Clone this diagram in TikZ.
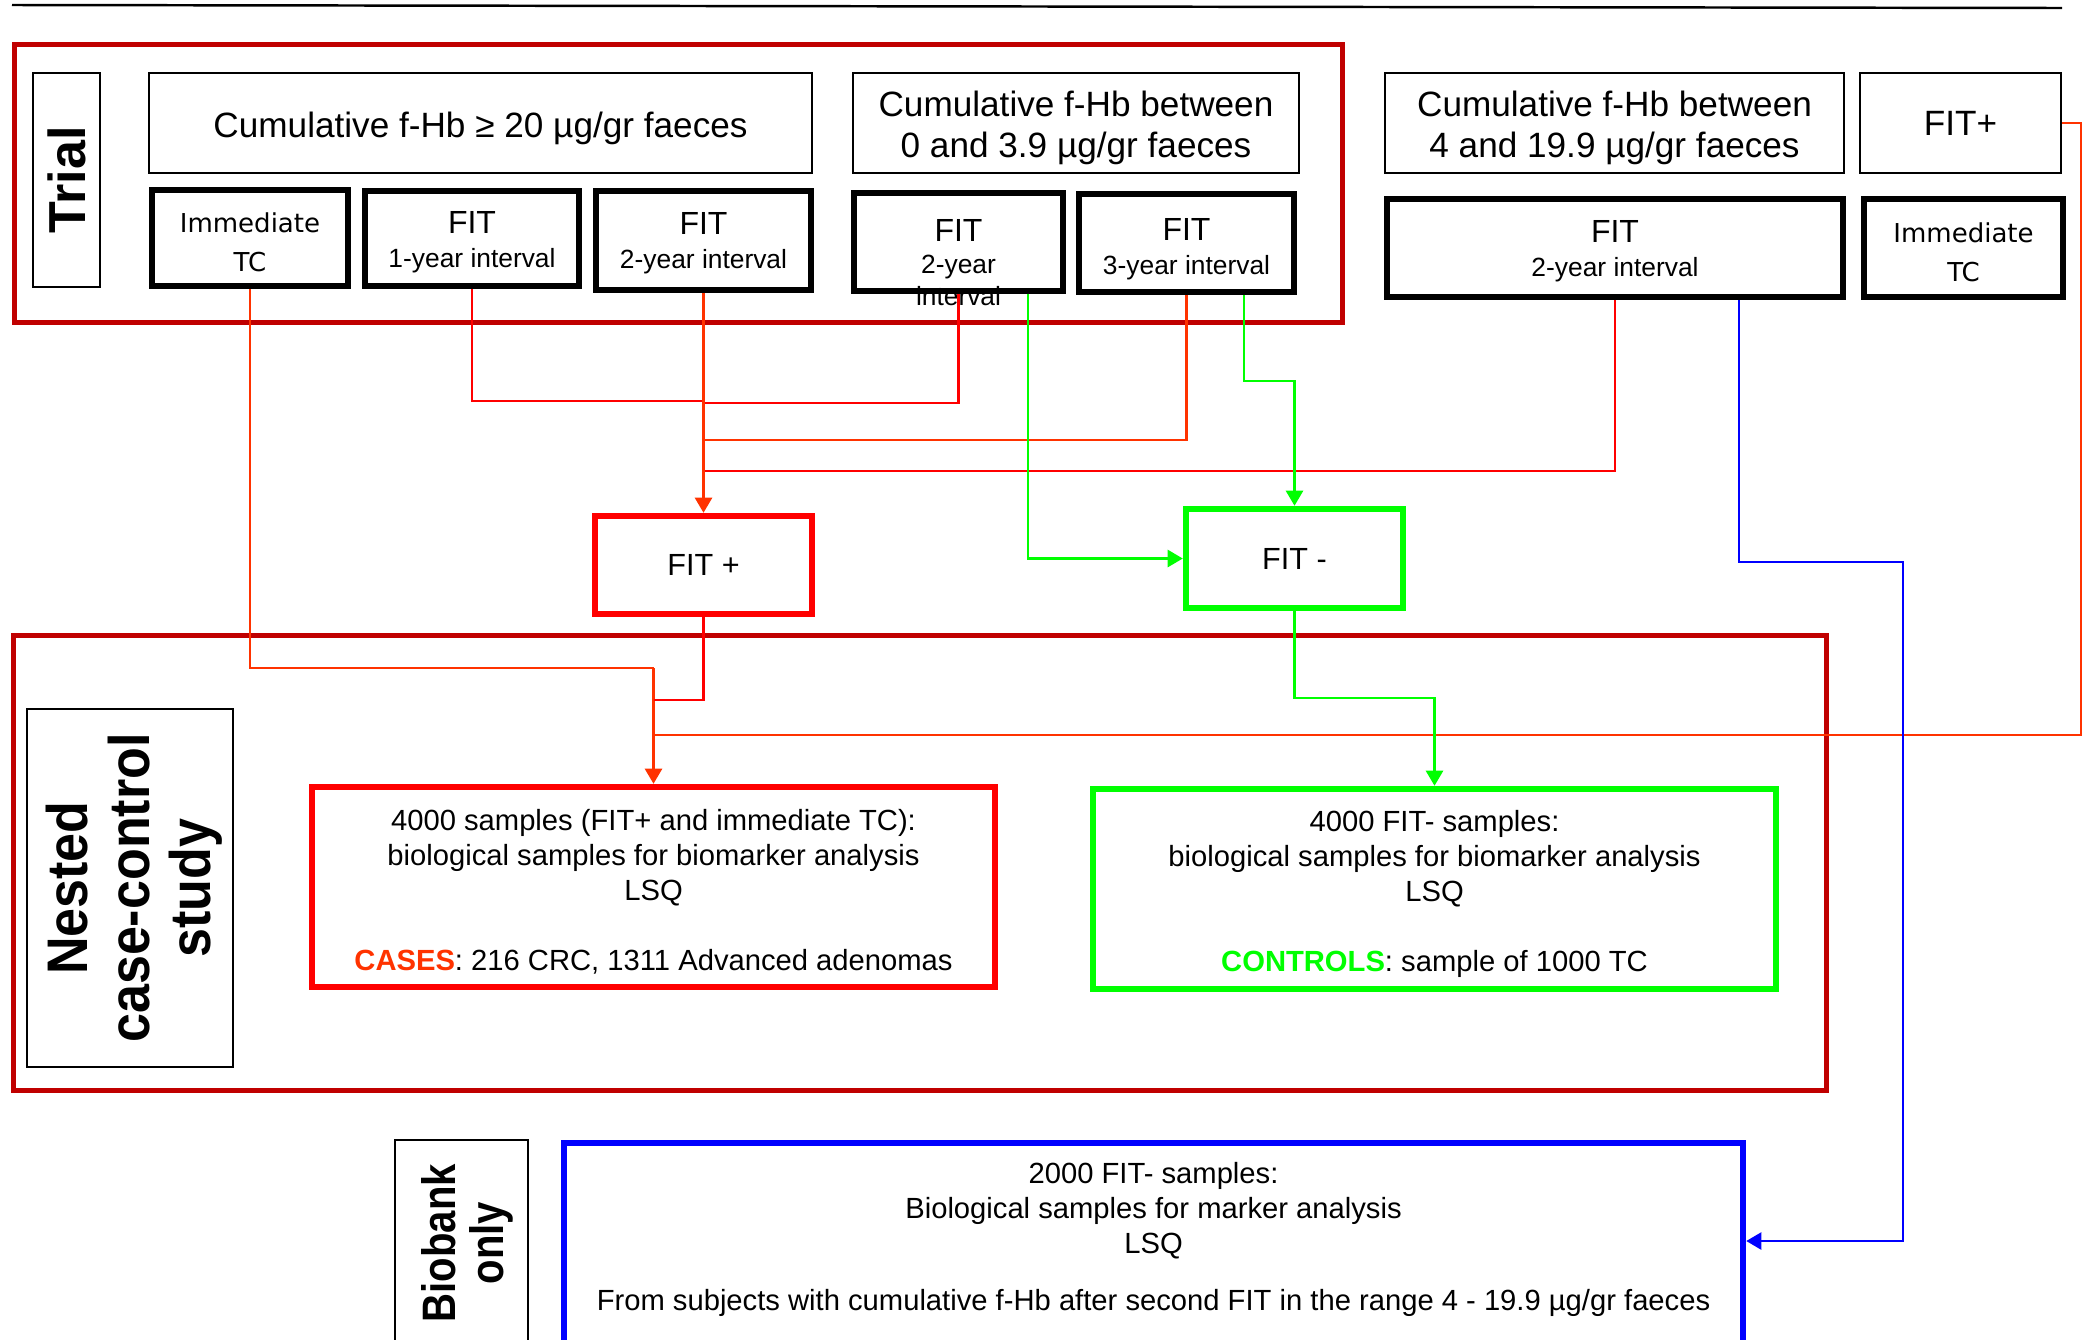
\documentclass[tikz,border=0pt]{standalone}
\usepackage{fontspec}
\usepackage{graphicx}
\setmainfont{Liberation Sans}
\newfontfamily\djvfont{DejaVu Sans}
\usetikzlibrary{arrows.meta,calc}
\definecolor{framered}{HTML}{C00000}
\definecolor{pred}{HTML}{FF0000}
\definecolor{ored}{HTML}{FF3300}
\definecolor{pgreen}{HTML}{00FF00}
\definecolor{pblue}{HTML}{0000FF}
\newcommand{\mlt}[1]{\begin{tabular}{@{}c@{}}#1\end{tabular}}
\newcommand{\vsh}[2]{\raisebox{#1}[\height][\depth]{#2}}
\newcommand{\fhead}{\fontsize{10}{11.4}\selectfont}
\newcommand{\ffit}{\fontsize{9.1}{9.4}\selectfont}
\newcommand{\fintv}{\fontsize{7.5}{9}\selectfont}
\newcommand{\fimm}{\djvfont\fontsize{7.4}{11.1}\selectfont}
\newcommand{\fbody}{\fontsize{8.3}{10}\selectfont}
\newcommand{\fpm}{\fontsize{8.7}{10}\selectfont}
\tikzset{
  sz/.style 2 args={minimum width=#1*0.01cm, minimum height=#2*0.01cm},
  thinbox/.style={draw=black, line width=0.6pt, inner sep=0pt},
  thickbox/.style={draw=black, line width=1.7pt, inner sep=0pt},
  framebox/.style={draw=framered, line width=1.4pt, inner sep=0pt},
  colbox/.style={draw=#1, line width=1.85pt, inner sep=0pt},
  sidelabel/.style={thinbox, rotate=90},
  conn/.style={line width=0.6pt, draw=#1},
  arrowed/.style={-{Triangle[length=4.3pt,width=4.9pt]}},
}
\begin{document}
\begin{tikzpicture}[x=0.01cm,y=-0.01cm]
\useasboundingbox (0,0) rectangle (2089,1339);
% top rule
\draw[line width=0.7pt] (12,5) -- (2062,8);
% frames
\node[framebox, sz={1328}{278}] (trialframe) at (678.5,183.5) {};
\node[framebox, sz={1813}{455}] (nestframe) at (920,863) {};
% side labels
\node[sidelabel, sz={214}{67}, font=\bfseries\fontsize{14.8}{16}\selectfont] (triallab) at (66.5,180) {Trial};
\node[sidelabel, sz={358}{206}, font=\bfseries\fontsize{14.8}{15.8}\selectfont] (nestlab) at (130,888)
  {\scalebox{1}[1.1]{\vsh{-0.062cm}{\mlt{Nested\\case-control\\study}}}};
\node[sidelabel, sz={206}{133}, font=\bfseries\fontsize{11.4}{11.4}\selectfont] (biolab) at (461.5,1243)
  {\scalebox{1}[1.17]{\vsh{-0.066cm}{\mlt{Biobank\\only}}}};
% header boxes
\node[thinbox, sz={663}{100}, font=\fhead] (h1) at (480.5,123) {\vsh{-0.05cm}{Cumulative f-Hb ≥ 20 µg/gr faeces}};
\node[thinbox, sz={446}{100}, font=\fhead] (h2) at (1076,123) {\vsh{-0.06cm}{\mlt{Cumulative f-Hb between\\0 and 3.9 µg/gr faeces}}};
\node[thinbox, sz={459}{100}, font=\fhead] (h3) at (1614.5,123) {\vsh{-0.06cm}{\mlt{Cumulative f-Hb between\\4 and 19.9 µg/gr faeces}}};
\node[thinbox, sz={201}{100}, font=\fhead] (h4) at (1960.5,123) {FIT+};
% thick boxes
\node[thickbox, sz={196}{96}, font=\fimm] (a) at (250,238) {\vsh{-0.057cm}{\mlt{Immediate\\TC}}};
\node[thickbox, sz={214}{95}, font=\ffit] (b) at (472,238.5) {\vsh{-0.054cm}{\mlt{FIT\\{\fintv 1-year interval}}}};
\node[thickbox, sz={215}{99}, font=\ffit] (c) at (703.5,240.5) {\vsh{-0.044cm}{\mlt{FIT\\{\fintv 2-year interval}}}};
\node[thickbox, sz={209}{96}, font=\fontsize{9.1}{9.2}\selectfont] (d) at (958.5,242) {\vsh{-0.249cm}{\mlt{FIT\\{\fintv 2-year}\\{\fintv interval}}}};
\node[thickbox, sz={215}{98}, font=\ffit] (e) at (1186.5,243) {\vsh{-0.079cm}{\mlt{FIT\\{\fintv 3-year interval}}}};
\node[thickbox, sz={456}{98}, font=\ffit] (f) at (1615,248) {\vsh{-0.049cm}{\mlt{FIT\\{\fintv 2-year interval}}}};
\node[thickbox, sz={199}{98}, font=\fimm] (g) at (1963.5,248) {\vsh{-0.057cm}{\mlt{Immediate\\TC}}};
% FIT + / FIT -
\node[colbox=pred, sz={217}{98}, font=\fpm] (fitp) at (703.5,565) {FIT +};
\node[colbox=pgreen, sz={217}{99}, font=\fpm] (fitm) at (1294.5,558.5) {FIT -};
% sample boxes
\node[colbox=pred, sz={683}{200}, font=\fbody] (case) at (653.5,887)
  {\vsh{-0.064cm}{\mlt{4000 samples (FIT+ and immediate TC):\\biological samples for biomarker analysis\\LSQ\\[10pt]\textcolor{ored}{\bfseries CASES}: 216 CRC, 1311 Advanced adenomas}}};
\node[colbox=pgreen, sz={683}{200}, font=\fbody] (ctrl) at (1434.5,889)
  {\vsh{-0.054cm}{\mlt{4000 FIT- samples:\\biological samples for biomarker analysis\\LSQ\\[10pt]\textcolor{pgreen}{\bfseries CONTROLS}: sample of 1000 TC}}};
\node[colbox=pblue, sz={1179}{207}, font=\fbody] (blue) at (1153.5,1246.5)
  {\vsh{0.068cm}{\mlt{2000 FIT- samples:\\Biological samples for marker analysis\\LSQ\\[6.2pt]From subjects with cumulative f-Hb after second FIT in the range 4 - 19.9 µg/gr faeces}}};
% junction coordinates
\coordinate (jb) at (703.5,401);
\coordinate (jd) at (703.5,403);
\coordinate (je) at (703.5,440);
\coordinate (jf) at (703.5,471);
\coordinate (jA) at (653.5,668);
\coordinate (jB) at (653.5,700);
\coordinate (jC) at (653.5,735);
\coordinate (kC) at (2081,735);
\coordinate (ge) at (1294.5,381);
\coordinate (gc) at (1434.5,698);
\coordinate (b1) at (1903,562);
\coordinate (bt) at ($(blue.east)+(0,-5.5)$);
% red connectors
\draw[conn=pred] (b.south) |- (jb);
\draw[conn=pred] (d.south) |- (jd);
\draw[conn=ored] (e.south) |- (je);
\draw[conn=pred] (f.south) |- (jf);
\draw[conn=ored, arrowed] (c.south) -- (fitp.north);
\draw[conn=ored] (a.south) |- (jA);
\draw[conn=ored, arrowed] (jA) -- (case.north);
\draw[conn=pred] (fitp.south) |- (jB);
\draw[conn=ored] (h4.east) -| (kC) -- (jC);
% green connectors
\draw[conn=pgreen, arrowed] ($(d.south)+(69.5,0)$) |- (fitm.west);
\draw[conn=pgreen, arrowed] ($(e.south)+(57.5,0)$) |- (ge) -- (fitm.north);
\draw[conn=pgreen, arrowed] (fitm.south) |- (gc) -- (ctrl.north);
% blue connector
\draw[conn=pblue, arrowed] ($(f.south)+(124,0)$) |- (b1) |- (bt);
\end{tikzpicture}
\end{document}
